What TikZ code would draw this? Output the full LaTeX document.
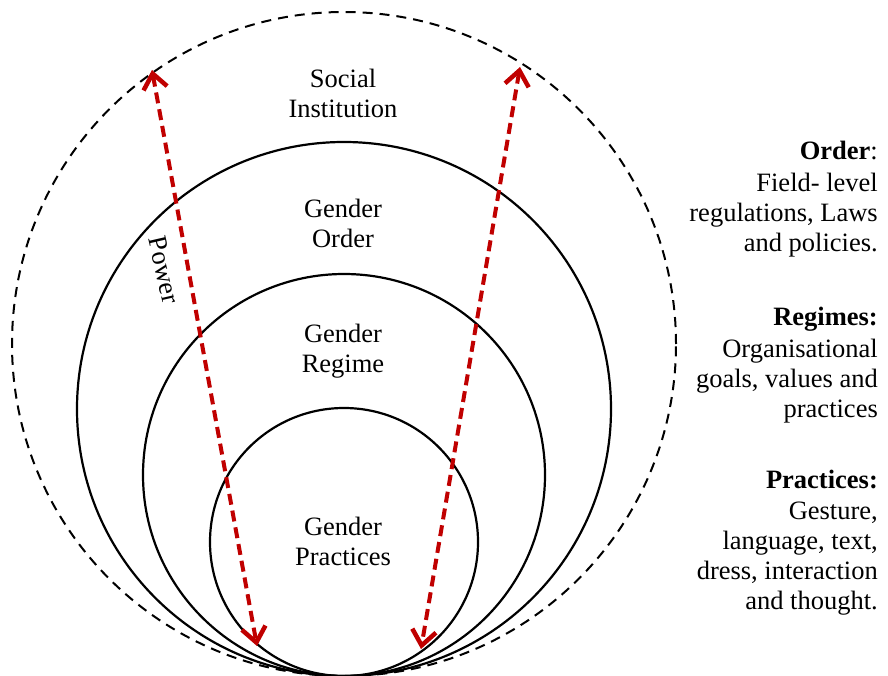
\documentclass[tikz,border=0pt]{standalone}
\usepackage{fontspec}
\setmainfont{Liberation Serif}
\usetikzlibrary{arrows.meta}
\definecolor{powerred}{RGB}{192,0,0}
\tikzset{
  ring/.style={draw=black, line width=2.2pt},
  outerring/.style={draw=black, line width=2pt, dash pattern=on 10pt off 7pt},
  powerline/.style={draw=powerred, line width=4pt, dash pattern=on 11pt off 6pt,
    {Straight Barb[length=15pt,width=24pt,line width=4.5pt]}-{Straight Barb[length=15pt,width=24pt,line width=4.5pt]}},
  lbl/.style={font=\fontsize{26.5}{30}\selectfont, align=center, inner sep=0pt},
  note/.style={font=\fontsize{26.5}{30}\selectfont, align=right, anchor=north east, inner sep=0pt}
}
\begin{document}
\begin{tikzpicture}[x=1pt,y=-1pt]
      \useasboundingbox (0,0) rectangle (888,676);
      % nested circles, all touching at the bottom
      \draw[outerring] (344,344) circle (332pt);
      \draw[ring] (344,409) circle (267pt);
      \draw[ring] (344,475) circle (201pt);
      \draw[ring] (344,542) circle (134pt);
      \node[lbl] (inst) at (343,93) {Social\\Institution};
      \node[lbl] (order) at (343,223) {Gender\\Order};
      \node[lbl] (regime) at (343,351) {Gender\\Regime};
      \node[lbl] (prac) at (343,541) {Gender\\Practices};
      \node[lbl, rotate=-77] (power) at (164,270) {Power};
      % power arrows
      \coordinate (lefttop) at (152,70);
      \coordinate (leftbot) at (257,646);
      \coordinate (righttop) at (520,67);
      \coordinate (rightbot) at (421,649);
      \draw[powerline] (lefttop) -- (leftbot);
      \draw[powerline] (righttop) -- (rightbot);
      % notes on the right
      \node[note] (ordernote) at (878,141) {\textbf{Order}:\\[2pt]Field- level\\regulations, Laws\\and policies.};
      \node[note] (regimenote) at (878,307) {\textbf{Regimes:}\\[2pt]Organisational\\goals, values and\\practices};
      \node[note] (pracnote) at (878,470) {\textbf{Practices:}\\[1pt]Gesture,\\language, text,\\dress, interaction\\and thought.};
\end{tikzpicture}
\end{document}
